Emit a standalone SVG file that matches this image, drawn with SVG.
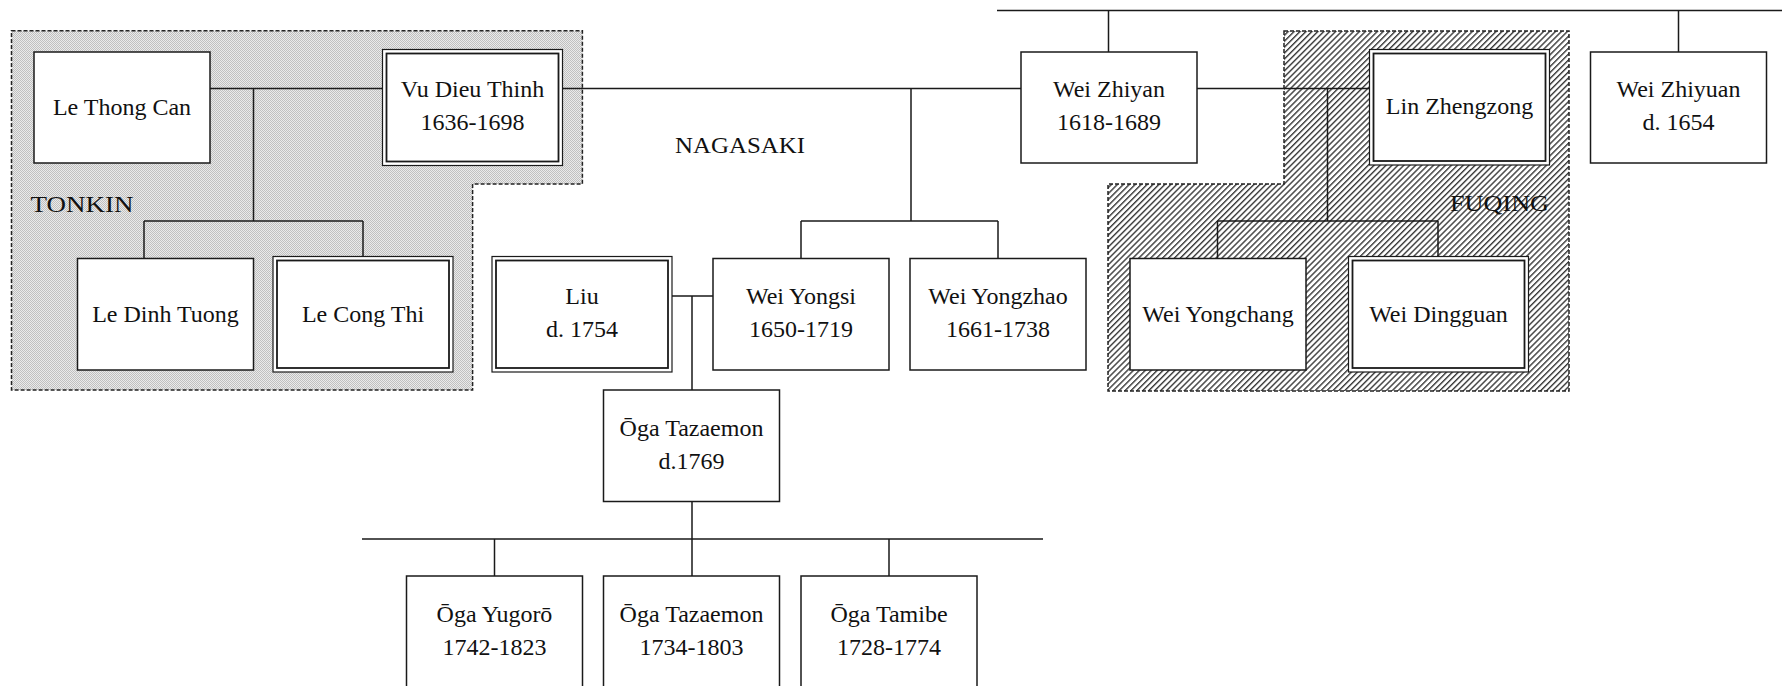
<svg xmlns="http://www.w3.org/2000/svg" width="1782" height="686" viewBox="0 0 1782 686">
<defs>
<pattern id="dots" patternUnits="userSpaceOnUse" width="2" height="2">
<rect width="2" height="2" fill="#eaeaea"/>
<rect width="1" height="1" fill="#c0c0c0"/>
<rect x="1" y="1" width="1" height="1" fill="#c0c0c0"/>
</pattern>
<pattern id="hatch" patternUnits="userSpaceOnUse" width="4.2" height="4.2" patternTransform="rotate(45)">
<rect width="4.2" height="4.2" fill="#fff"/>
<rect width="1.4" height="4.2" fill="#3a3a3a"/>
</pattern>
<style>
.region{stroke:#222;stroke-width:1.5;stroke-dasharray:4 2}
.box{fill:#fff;stroke:#1a1a1a;stroke-width:1.5}
.dbl-out{fill:#fff;stroke:#1a1a1a;stroke-width:1.2}
.dbl-in{fill:#fff;stroke:#1a1a1a;stroke-width:1.8}
.conn{fill:none;stroke:#1a1a1a;stroke-width:1.5}
text{font-family:"Liberation Serif","Times New Roman",serif;font-size:24px;fill:#111}
.c{text-anchor:middle}
</style>
</defs>
<rect width="1782" height="686" fill="#fff"/>

<g id="region-tonkin">
<polygon class="region" fill="url(#dots)" points="11.5,30.7 582.4,30.7 582.4,184 472.6,184 472.6,390 11.5,390"/>
<text x="30.6" y="212" textLength="103" lengthAdjust="spacingAndGlyphs">TONKIN</text>
</g>
<g id="region-fuqing">
<polygon class="region" fill="url(#hatch)" points="1284,31 1569,31 1569,391 1108,391 1108,184 1284,184"/>
</g>
<g id="region-nagasaki">
<text x="675" y="153" textLength="130" lengthAdjust="spacingAndGlyphs">NAGASAKI</text>
</g>

<g id="connectors">
<path class="conn" d="M210 88.5H383"/>
<path class="conn" d="M253.5 88.5V221M144 221H363M144 221V258.5M363 221V256.5"/>
<path class="conn" d="M562 88.5H1021"/>
<path class="conn" d="M911 88.5V221M801 221H998M801 221V258.5M998 221V258.5"/>
<path class="conn" d="M997 10.5H1782M1108.5 10.5V52M1678.5 10.5V52"/>
<path class="conn" d="M1197 88.5H1370"/>
<path class="conn" d="M1327.5 88.5V221M1217.5 221H1438M1217.5 221V258.5M1438 221V256.5"/>
<path class="conn" d="M672 296H713M692 296V390"/>
<path class="conn" d="M692 501.5V539M362 539H1043M494.5 539V576M692 539V576M889 539V576"/>
</g>

<g id="node-le-thong-can">
<rect class="box" x="34" y="52" width="176" height="111"/>
<text class="c" x="122" y="115">Le Thong Can</text>
</g>
<g id="node-vu-dieu-thinh">
<rect class="dbl-out" x="382.5" y="49.5" width="180" height="116"/>
<rect class="dbl-in" x="386.5" y="53.5" width="172" height="108"/>
<text class="c" x="472.5" y="97">Vu Dieu Thinh</text>
<text class="c" x="472.5" y="130">1636-1698</text>
</g>
<g id="node-le-dinh-tuong">
<rect class="box" x="77.5" y="258.5" width="176" height="111.5"/>
<text class="c" x="165.5" y="322">Le Dinh Tuong</text>
</g>
<g id="node-le-cong-thi">
<rect class="dbl-out" x="273" y="256.5" width="180" height="115.5"/>
<rect class="dbl-in" x="277" y="260.5" width="172" height="107.5"/>
<text class="c" x="363" y="322">Le Cong Thi</text>
</g>
<g id="node-liu">
<rect class="dbl-out" x="492" y="256.5" width="180" height="115.5"/>
<rect class="dbl-in" x="496" y="260.5" width="172" height="107.5"/>
<text class="c" x="582" y="304">Liu</text>
<text class="c" x="582" y="337">d. 1754</text>
</g>
<g id="node-wei-yongsi">
<rect class="box" x="713" y="258.5" width="176" height="111.5"/>
<text class="c" x="801" y="304">Wei Yongsi</text>
<text class="c" x="801" y="337">1650-1719</text>
</g>
<g id="node-wei-yongzhao">
<rect class="box" x="910" y="258.5" width="176" height="111.5"/>
<text class="c" x="998" y="304">Wei Yongzhao</text>
<text class="c" x="998" y="337">1661-1738</text>
</g>
<g id="node-wei-zhiyan">
<rect class="box" x="1021" y="52" width="176" height="111"/>
<text class="c" x="1109" y="97">Wei Zhiyan</text>
<text class="c" x="1109" y="130">1618-1689</text>
</g>
<g id="node-lin-zhengzong">
<rect class="dbl-out" x="1369.5" y="49.5" width="180" height="115.5"/>
<rect class="dbl-in" x="1373.5" y="53.5" width="172" height="107.5"/>
<text class="c" x="1459.5" y="114">Lin Zhengzong</text>
</g>
<g id="node-wei-zhiyuan">
<rect class="box" x="1590.5" y="52" width="176" height="111"/>
<text class="c" x="1678.5" y="97">Wei Zhiyuan</text>
<text class="c" x="1678.5" y="130">d. 1654</text>
</g>
<g id="node-wei-yongchang">
<rect class="box" x="1130" y="258.5" width="176" height="111.5"/>
<text class="c" x="1218" y="322">Wei Yongchang</text>
</g>
<g id="node-wei-dingguan">
<rect class="dbl-out" x="1348.5" y="256.5" width="180" height="115.5"/>
<rect class="dbl-in" x="1352.5" y="260.5" width="172" height="107.5"/>
<text class="c" x="1438.5" y="322">Wei Dingguan</text>
</g>
<g id="label-fuqing">
<text x="1549" y="211" text-anchor="end" textLength="99" lengthAdjust="spacingAndGlyphs">FUQING</text>
</g>
<g id="node-oga-tazaemon-1769">
<rect class="box" x="603.5" y="390" width="176" height="111.5"/>
<text class="c" x="691.5" y="436">Ōga Tazaemon</text>
<text class="c" x="691.5" y="469">d.1769</text>
</g>
<g id="node-oga-yugoro">
<rect class="box" x="406.5" y="576" width="176" height="120"/>
<text class="c" x="494.5" y="622">Ōga Yugorō</text>
<text class="c" x="494.5" y="655">1742-1823</text>
</g>
<g id="node-oga-tazaemon-1734">
<rect class="box" x="603.5" y="576" width="176" height="120"/>
<text class="c" x="691.5" y="622">Ōga Tazaemon</text>
<text class="c" x="691.5" y="655">1734-1803</text>
</g>
<g id="node-oga-tamibe">
<rect class="box" x="801" y="576" width="176" height="120"/>
<text class="c" x="889" y="622">Ōga Tamibe</text>
<text class="c" x="889" y="655">1728-1774</text>
</g>
</svg>
